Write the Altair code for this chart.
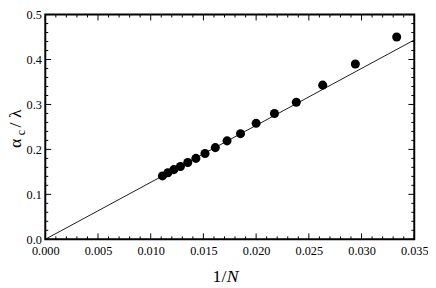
import altair as alt
import pandas as pd

# ---- data ----
N_values = [30, 34, 38, 42, 46, 50, 54, 58, 62, 66, 70, 74, 78, 82, 86, 90]
alpha_over_lambda = [0.450, 0.390, 0.343, 0.305, 0.280, 0.258, 0.235, 0.219,
                     0.204, 0.191, 0.180, 0.171, 0.162, 0.155, 0.148, 0.141]
fit_x = [0.0, 0.035]
fit_y = [0.0, 0.4435]

x_major = [0.000, 0.005, 0.010, 0.015, 0.020, 0.025, 0.030, 0.035]
x_minor = [i / 1000 for i in range(0, 36) if i % 5 != 0]
y_major = [0.0, 0.1, 0.2, 0.3, 0.4, 0.5]
y_minor = [i / 50 for i in range(0, 26) if i % 5 != 0]

W, H = 376, 229
TOP = 4
FONT = "Liberation Serif"

pts = pd.DataFrame({"x": [1 / n for n in N_values], "y": alpha_over_lambda})
fit = pd.DataFrame({"x": fit_x, "y": fit_y})

xscale = alt.Scale(domain=[0, 0.035], nice=False, zero=False)
yscale = alt.Scale(domain=[0, 0.5], nice=False, zero=False)
xaxis = alt.Axis(values=x_major, format=".3f", tickSize=0, domain=False, grid=False,
                 labelFont=FONT, labelFontSize=12.5, labelColor="black", labelPadding=6,
                 title=None, labelFlush=False)
yaxis = alt.Axis(values=y_major, format=".1f", tickSize=0, domain=False, grid=False,
                 labelFont=FONT, labelFontSize=12.5, labelColor="black", labelPadding=4,
                 title=None)

X = alt.X("x:Q", scale=xscale, axis=xaxis)
Y = alt.Y("y:Q", scale=yscale, axis=yaxis)

line = alt.Chart(fit).mark_line(color="black", strokeWidth=0.9, clip=True).encode(x=X, y=Y)
points = alt.Chart(pts).mark_circle(size=85, color="black", opacity=1).encode(x=X, y=Y)

def xticks(vals, length):
    df = pd.DataFrame({"x": vals})
    bottom = alt.Chart(df).mark_rule(color="black", strokeWidth=1).encode(
        x=X, y=alt.value(H), y2=alt.value(H - length))
    top = alt.Chart(df).mark_rule(color="black", strokeWidth=1).encode(
        x=X, y=alt.value(0), y2=alt.value(length))
    return [bottom, top]

def yticks(vals, length):
    df = pd.DataFrame({"y": vals})
    left = alt.Chart(df).mark_rule(color="black", strokeWidth=1).encode(
        y=Y, x=alt.value(0), x2=alt.value(length))
    right = alt.Chart(df).mark_rule(color="black", strokeWidth=1).encode(
        y=Y, x=alt.value(W), x2=alt.value(W - length))
    return [left, right]

ticks = xticks(x_major, 6) + xticks(x_minor, 3) + yticks(y_major, 6) + yticks(y_minor, 3)

one = pd.DataFrame({"a": [0]})

def label(text, x, y, size=18, angle=0, style="normal"):
    kw = dict(text=text, font=FONT, fontSize=size, color="black", align="left",
              baseline="alphabetic", fontStyle=style)
    if angle:
        kw["angle"] = angle
    return alt.Chart(one).mark_text(**kw).encode(x=alt.value(x), y=alt.value(y))

# positions relative to plot origin (page x=46, y=8+TOP)
titles = [
    label("1/", 170.5, 285 - 8 - TOP),
    label("N", 185, 285 - 8 - TOP, style="italic"),
    label("α", -25, 148 - 8 - TOP, angle=270),
    label("c", -21, 135 - 8 - TOP, size=12, angle=270),
    label("/ λ", -25, 127 - 8 - TOP, angle=270),
]

chart = alt.layer(line, points, *ticks, *titles).properties(
    width=W, height=H,
    autosize=alt.AutoSizeParams(type="none"),
    padding={"left": 38, "top": TOP, "right": 14, "bottom": 50},
).configure_view(stroke="black", strokeWidth=2).configure_axis(
    labelFont=FONT, labelFontSize=12.5, labelColor="black"
)

chart.save("out.html", embed_options={"renderer": "svg", "actions": False})
